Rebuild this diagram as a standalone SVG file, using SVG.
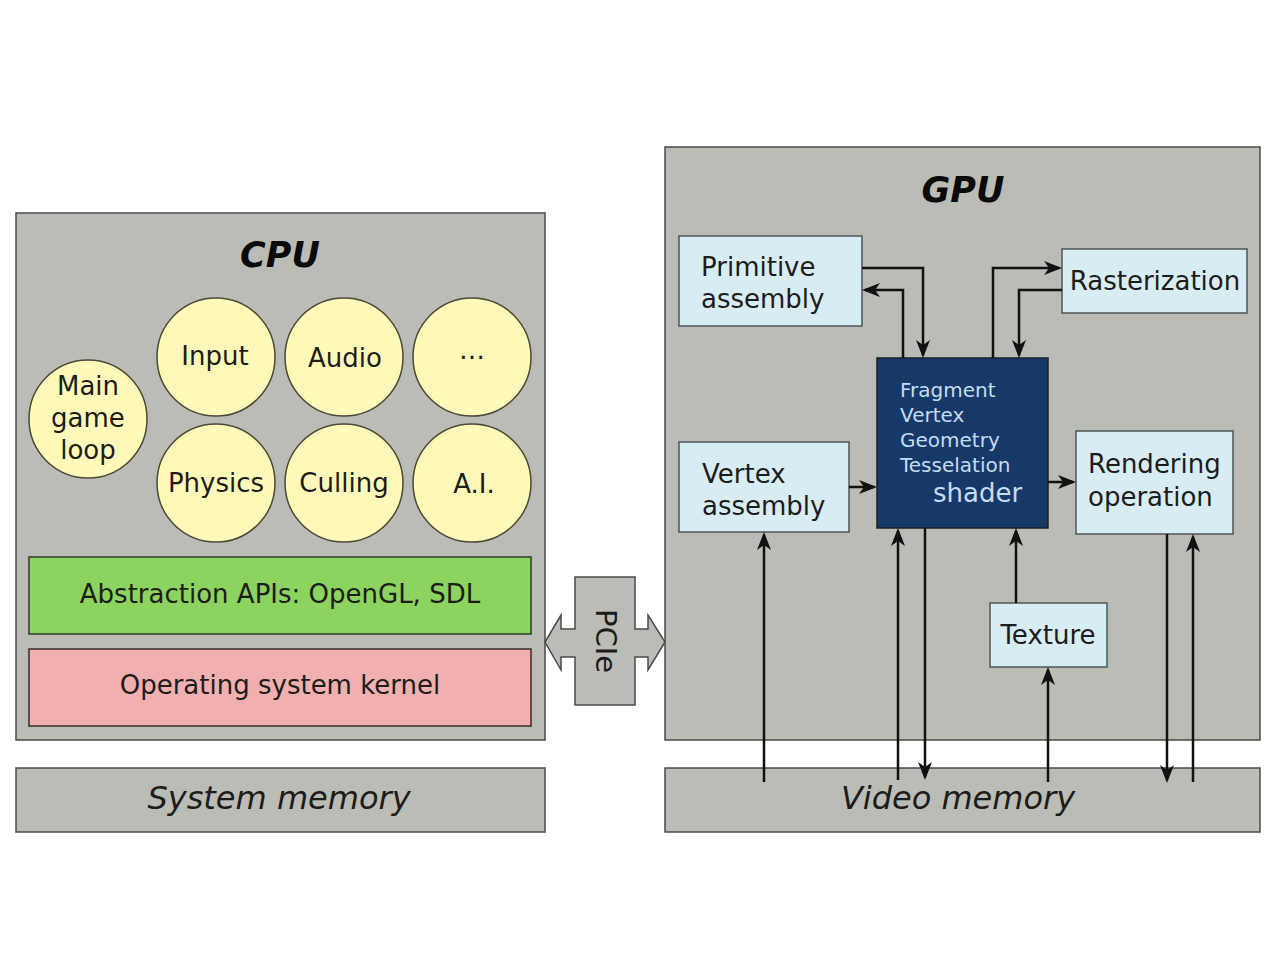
<svg xmlns="http://www.w3.org/2000/svg" width="1280" height="956" viewBox="0 0 1280 956">
  <style>
    text { font-family: "DejaVu Sans", "Liberation Sans", sans-serif; fill: #1c1c1a; }
    .panel { fill: #bbbcb5; stroke: #4a4a48; stroke-width: 1.5; }
    .ball { fill: #fff9b9; stroke: #4b4836; stroke-width: 1.5; }
    .box { fill: #d7ecf3; stroke: #4f5556; stroke-width: 1.5; }
    .t26 { font-size: 26px; }
    .mid { text-anchor: middle; }
    .title { font-size: 35px; font-weight: bold; font-style: italic; text-anchor: middle; fill: #0a0a0a; }
    .mem { font-size: 32px; font-style: italic; text-anchor: middle; }
    .stage { font-size: 20px; fill: #c6ddf0; }
    .kind { font-size: 26px; fill: #c6ddf0; }
    .wire { fill: none; stroke: #111; stroke-width: 2.5; marker-end: url(#ah); }
  </style>
  <defs>
    <marker id="ah" markerWidth="20" markerHeight="16" refX="15" refY="8" orient="auto" markerUnits="userSpaceOnUse" viewBox="0 0 20 16">
      <path d="M0,1 L18,8 L0,15 L5,8 Z" fill="#111"/>
    </marker>
  </defs>

  <rect width="1280" height="956" fill="#ffffff"/>

  <!-- CPU side -->
  <g id="cpu">
    <rect class="panel" x="16" y="213" width="529" height="527"/>
    <text class="title" x="280" y="267">CPU</text>
  </g>
  <g id="main-loop">
    <circle class="ball" cx="88" cy="419" r="59"/>
    <text class="t26 mid" x="88" y="395">Main</text>
    <text class="t26 mid" x="88" y="427">game</text>
    <text class="t26 mid" x="88" y="459">loop</text>
  </g>
  <g id="input">
    <circle class="ball" cx="216" cy="357" r="59"/>
    <text class="t26 mid" x="215" y="365">Input</text>
  </g>
  <g id="audio">
    <circle class="ball" cx="344" cy="357" r="59"/>
    <text class="t26 mid" x="345" y="367">Audio</text>
  </g>
  <g id="more">
    <circle class="ball" cx="472" cy="357" r="59"/>
    <text class="t26 mid" x="472" y="359">…</text>
  </g>
  <g id="physics">
    <circle class="ball" cx="216" cy="483" r="59"/>
    <text class="t26 mid" x="216" y="492">Physics</text>
  </g>
  <g id="culling">
    <circle class="ball" cx="344" cy="483" r="59"/>
    <text class="t26 mid" x="344" y="492">Culling</text>
  </g>
  <g id="ai">
    <circle class="ball" cx="472" cy="483" r="59"/>
    <text class="t26 mid" x="474" y="493">A.I.</text>
  </g>
  <g id="apis">
    <rect x="29" y="557" width="502" height="77" fill="#8cd35f" stroke="#2f3a28" stroke-width="1.5"/>
    <text class="t26 mid" x="280" y="603">Abstraction APIs: OpenGL, SDL</text>
  </g>
  <g id="kernel">
    <rect x="29" y="649" width="502" height="77" fill="#f1afaf" stroke="#3a2a2a" stroke-width="1.5"/>
    <text class="t26 mid" x="280" y="694">Operating system kernel</text>
  </g>
  <g id="system-memory">
    <rect class="panel" x="16" y="768" width="529" height="64"/>
    <text class="mem" x="279" y="809">System memory</text>
  </g>

  <!-- PCIe link -->
  <g id="pcie">
    <polygon points="545,642 561,615 561,629 575,629 575,577 635,577 635,629 648,629 648,615 665,642 648,670 648,657 635,657 635,705 575,705 575,657 561,657 561,670" fill="#bbbcb5" stroke="#4a4a48" stroke-width="1.5"/>
    <text transform="translate(596,641) rotate(90)" class="mid" font-size="29">PCIe</text>
  </g>

  <!-- GPU side -->
  <g id="gpu">
    <rect class="panel" x="665" y="147" width="595" height="593"/>
    <text class="title" x="963" y="202">GPU</text>
  </g>
  <g id="video-memory">
    <rect class="panel" x="665" y="768" width="595" height="64"/>
    <text class="mem" x="958" y="809">Video memory</text>
  </g>
  <g id="primitive-assembly">
    <rect class="box" x="679" y="236" width="183" height="90"/>
    <text class="t26" x="701" y="276">Primitive</text>
    <text class="t26" x="701" y="308">assembly</text>
  </g>
  <g id="rasterization">
    <rect class="box" x="1062" y="249" width="185" height="64"/>
    <text class="t26 mid" x="1155" y="290">Rasterization</text>
  </g>
  <g id="shader">
    <rect x="877" y="358" width="171" height="170" fill="#16396a" stroke="#1a1f28" stroke-width="1.5"/>
    <text class="stage" x="900" y="397">Fragment</text>
    <text class="stage" x="900" y="422">Vertex</text>
    <text class="stage" x="900" y="447">Geometry</text>
    <text class="stage" x="900" y="472">Tesselation</text>
    <text class="kind" x="933" y="502">shader</text>
  </g>
  <g id="vertex-assembly">
    <rect class="box" x="679" y="442" width="170" height="90"/>
    <text class="t26" x="702" y="483">Vertex</text>
    <text class="t26" x="702" y="515">assembly</text>
  </g>
  <g id="rendering-operation">
    <rect class="box" x="1076" y="431" width="157" height="103"/>
    <text class="t26" x="1088" y="473">Rendering</text>
    <text class="t26" x="1088" y="506">operation</text>
  </g>
  <g id="texture">
    <rect class="box" x="990" y="603" width="117" height="64"/>
    <text class="t26 mid" x="1048" y="644">Texture</text>
  </g>

  <!-- data paths -->
  <g id="connectors">
    <path class="wire" d="M862,268 H923 V355"/>
    <path class="wire" d="M903,358 V290 H865"/>
    <path class="wire" d="M993,358 V268 H1059"/>
    <path class="wire" d="M1062,290 H1019 V355"/>
    <path class="wire" d="M849,487 H874"/>
    <path class="wire" d="M1048,482 H1073"/>
    <path class="wire" d="M1016,603 V531"/>
    <path class="wire" d="M1048,782 V670"/>
    <path class="wire" d="M764,782 V535"/>
    <path class="wire" d="M898,780 V531"/>
    <path class="wire" d="M925,528 V777"/>
    <path class="wire" d="M1167,534 V780"/>
    <path class="wire" d="M1193,782 V537"/>
  </g>
</svg>
